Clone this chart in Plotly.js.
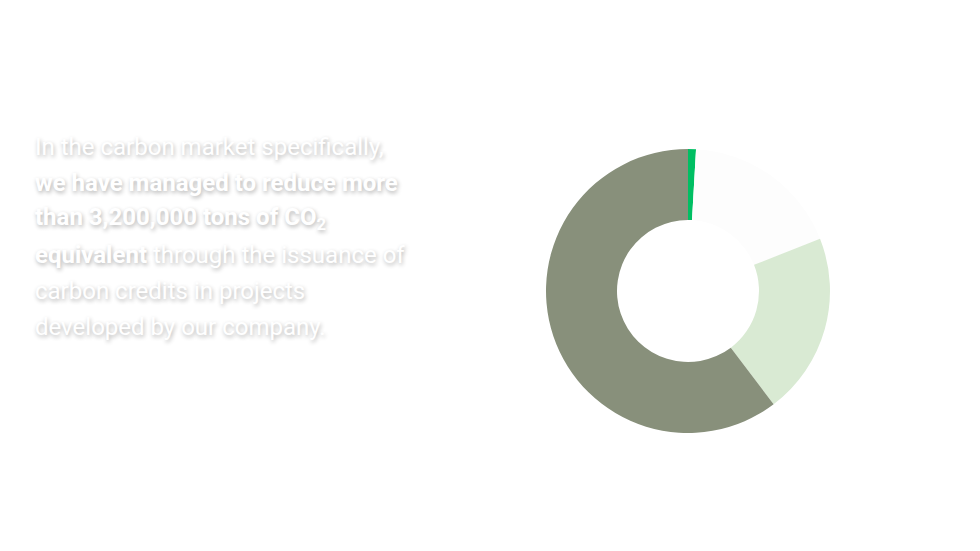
<!DOCTYPE html>
<html>
<head>
<meta charset="utf-8">
<script src="https://cdn.plot.ly/plotly-3.0.1.min.js"></script>
<style>html,body{margin:0;padding:0;background:#fff;}#chart{width:980px;height:551px;}</style>
</head>
<body>
<div id="chart"></div>
<script>
// Data
var sliceLabels = ["Segment A", "Segment B", "Segment C", "Segment D"];
var sliceValues = [0.9, 18.1, 20.7, 60.3];
var sliceColors = ["#00BF63", "#FDFDFD", "#D9EAD3", "#88907B"];
var textLines = [
  "In the carbon market specifically,",
  "<b>we have managed to reduce more</b>",
  "<b>than 3,200,000 tons of CO<sub>2</sub></b>",
  "<b>equivalent</b> through the issuance of",
  "carbon credits in projects",
  "developed by our company."
];

var W = 980, H = 551;
var cx = 688, cy = 291, r = 142;

var annotations = textLines.map(function (t, i) {
  return {
    text: t,
    xref: "paper", yref: "paper",
    x: 33 / W, y: 1 - (147 + i * 36) / H,
    xanchor: "left", yanchor: "middle",
    showarrow: false,
    align: "left",
    font: {family: "Roboto, sans-serif", size: 24, color: "#ffffff",
           shadow: "1px 2px 4px rgba(0,0,0,0.3)"}
  };
});

var data = [{
  type: "pie",
  labels: sliceLabels,
  values: sliceValues,
  marker: {colors: sliceColors, line: {width: 0}},
  hole: 0.5,
  sort: false,
  direction: "clockwise",
  rotation: 0,
  textinfo: "none",
  hoverinfo: "none",
  showlegend: false,
  domain: {x: [(cx - r) / W, (cx + r) / W], y: [1 - (cy + r) / H, 1 - (cy - r) / H]}
}];

var layout = {
  width: W, height: H,
  margin: {l: 0, r: 0, t: 0, b: 0},
  paper_bgcolor: "#ffffff",
  plot_bgcolor: "#ffffff",
  annotations: annotations,
  showlegend: false
};

Plotly.newPlot("chart", data, layout, {staticPlot: true, displayModeBar: false});
</script>
</body>
</html>
